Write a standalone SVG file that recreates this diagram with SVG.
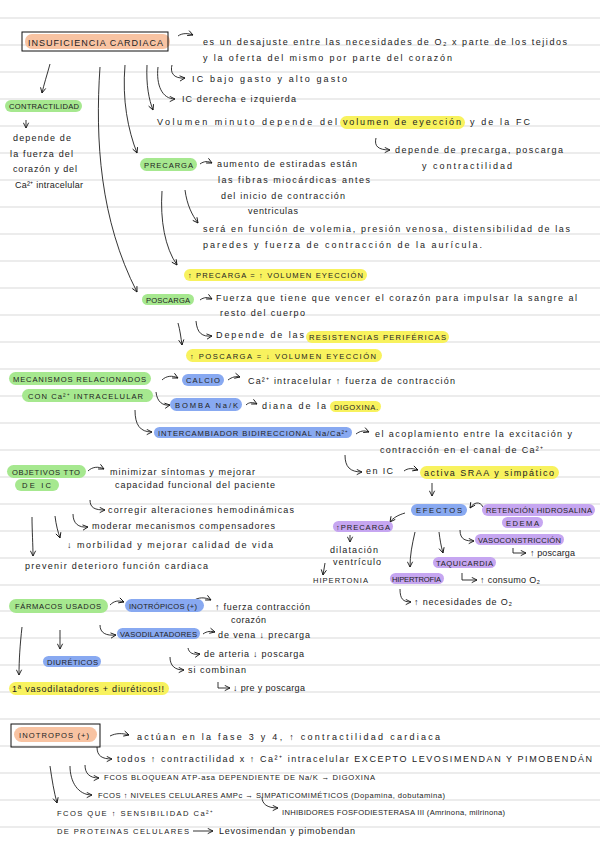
<svg xmlns="http://www.w3.org/2000/svg" width="600" height="848" viewBox="0 0 600 848">
<defs>
<marker id="ah" viewBox="0 0 8 8" refX="7" refY="4" markerWidth="7" markerHeight="7" markerUnits="userSpaceOnUse" orient="auto">
<path d="M1,1 L7,4 L1,7" fill="none" stroke="#111" stroke-width="1"/>
</marker>
<style>
.t{font-family:"Liberation Sans",Arial,sans-serif;font-size:9px;fill:#222}
.u{font-family:"Liberation Sans",Arial,sans-serif;font-size:7.6px;fill:#222}
.c{fill:none;stroke:#111;stroke-width:0.85;marker-end:url(#ah)}
.rule{stroke:#d9d9d9;stroke-width:1.2}
.g{fill:#a6e88f}
.b{fill:#88a9f1}
.p{fill:#c6a6f1}
.y{fill:#f8f25e}
.o{fill:#f8c3a2}
.box{fill:none;stroke:#111;stroke-width:1}
</style>
</defs>
<rect width="600" height="848" fill="#ffffff"/>
<g id="rules">
<line class="rule" x1="0" y1="18" x2="600" y2="18"/>
<line class="rule" x1="0" y1="45" x2="600" y2="45"/>
<line class="rule" x1="0" y1="72" x2="600" y2="72"/>
<line class="rule" x1="0" y1="99" x2="600" y2="99"/>
<line class="rule" x1="0" y1="126" x2="600" y2="126"/>
<line class="rule" x1="0" y1="153" x2="600" y2="153"/>
<line class="rule" x1="0" y1="180" x2="600" y2="180"/>
<line class="rule" x1="0" y1="207" x2="600" y2="207"/>
<line class="rule" x1="0" y1="234" x2="600" y2="234"/>
<line class="rule" x1="0" y1="261" x2="600" y2="261"/>
<line class="rule" x1="0" y1="288" x2="600" y2="288"/>
<line class="rule" x1="0" y1="315" x2="600" y2="315"/>
<line class="rule" x1="0" y1="342" x2="600" y2="342"/>
<line class="rule" x1="0" y1="369" x2="600" y2="369"/>
<line class="rule" x1="0" y1="396" x2="600" y2="396"/>
<line class="rule" x1="0" y1="423" x2="600" y2="423"/>
<line class="rule" x1="0" y1="450" x2="600" y2="450"/>
<line class="rule" x1="0" y1="477" x2="600" y2="477"/>
<line class="rule" x1="0" y1="504" x2="600" y2="504"/>
<line class="rule" x1="0" y1="531" x2="600" y2="531"/>
<line class="rule" x1="0" y1="558" x2="600" y2="558"/>
<line class="rule" x1="0" y1="585" x2="600" y2="585"/>
<line class="rule" x1="0" y1="611" x2="600" y2="611"/>
<line class="rule" x1="0" y1="638" x2="600" y2="638"/>
<line class="rule" x1="0" y1="665" x2="600" y2="665"/>
<line class="rule" x1="0" y1="692" x2="600" y2="692"/>
<line class="rule" x1="0" y1="719" x2="600" y2="719"/>
<line class="rule" x1="0" y1="746" x2="600" y2="746"/>
<line class="rule" x1="0" y1="773" x2="600" y2="773"/>
<line class="rule" x1="0" y1="800" x2="600" y2="800"/>
<line class="rule" x1="0" y1="827" x2="600" y2="827"/>
</g>

<g id="connectors">
<path class="c" d="M178,36 C182,33 188,33 193,35"/>
<path class="c" d="M50,64 C47,75 44,84 42,93"/>
<path class="c" d="M100,67 C95,140 100,220 137,292"/>
<path class="c" d="M125,65 C122,100 128,130 137,153"/>
<path class="c" d="M147,65 C146,85 149,100 153,110"/>
<path class="c" d="M158,67 C156,85 162,99 175,99"/>
<path class="c" d="M172,65 C170,72 173,79 185,78"/>
<path class="c" d="M376,138 C374,146 378,150 390,150"/>
<path class="c" d="M26,120 L26,128"/>
<path class="c" d="M200,164 C204,161 208,161 212,163"/>
<path class="c" d="M185,190 C187,205 192,215 198,223"/>
<path class="c" d="M162,191 C160,220 165,248 177,265"/>
<path class="c" d="M200,300 C204,297 208,297 212,299"/>
<path class="c" d="M196,321 C197,333 202,337 212,336"/>
<path class="c" d="M178,323 C180,330 181,338 182,345"/>
<path class="c" d="M162,380 C166,376 172,375 178,378"/>
<path class="c" d="M228,380 C232,377 236,376 240,377"/>
<path class="c" d="M156,392 C157,402 163,406 170,405"/>
<path class="c" d="M246,405 C249,402 253,402 257,404"/>
<path class="c" d="M135,410 C135,425 140,432 152,432"/>
<path class="c" d="M356,434 C360,431 364,430 369,432"/>
<path class="c" d="M345,455 C345,467 350,472 362,472"/>
<path class="c" d="M404,471 C408,468 412,468 418,470"/>
<path class="c" d="M432,483 L432,496"/>
<path class="c" d="M483,507 C480,501 474,502 470,508"/>
<path class="c" d="M405,513 C398,515 393,518 390,522"/>
<path class="c" d="M350,535 L350,542"/>
<path class="c" d="M325,563 L323,575"/>
<path class="c" d="M415,532 C412,545 410,555 410,567"/>
<path class="c" d="M439,532 C440,540 441,546 443,553"/>
<path class="c" d="M460,530 C460,540 466,541 474,541"/>
<path class="c" d="M513,548 L513,553 L526,553"/>
<path class="c" d="M462,573 L462,580 L477,580"/>
<path class="c" d="M400,589 C400,599 403,602 411,602"/>
<path class="c" d="M88,471 C92,467 98,466 104,469"/>
<path class="c" d="M90,500 C90,508 95,510 105,510"/>
<path class="c" d="M73,514 C73,523 78,528 88,527"/>
<path class="c" d="M55,516 C56,525 58,532 60,538"/>
<path class="c" d="M32,517 C32,530 33,545 33,556"/>
<path class="c" d="M110,605 C114,601 118,600 124,602"/>
<path class="c" d="M193,601 C198,597 205,597 211,600"/>
<path class="c" d="M100,625 C100,633 106,636 116,635"/>
<path class="c" d="M203,634 C207,631 211,631 215,632"/>
<path class="c" d="M188,648 C189,653 193,655 200,654"/>
<path class="c" d="M170,657 C170,666 175,670 184,670"/>
<path class="c" d="M218,682 L218,688 L230,688"/>
<path class="c" d="M22,627 C20,645 19,660 19,675"/>
<path class="c" d="M60,630 L60,649"/>
<path class="c" d="M110,736 C116,733 122,733 129,735"/>
<path class="c" d="M97,747 C97,756 102,759 112,759"/>
<path class="c" d="M85,765 C85,773 89,778 99,778"/>
<path class="c" d="M70,766 C70,782 78,795 92,795"/>
<path class="c" d="M262,797 C262,804 267,808 278,808"/>
<path class="c" d="M50,766 C52,780 54,792 57,803"/>
<path class="c" d="M193,831 L213,831"/>
</g>

<g id="n-insuficiencia">
<rect class="o" x="25" y="34" width="145" height="15" rx="7"/>
<rect class="box" x="22" y="32" width="146" height="19"/>
<text class="t" x="28" y="45.5" textLength="135" lengthAdjust="spacing">INSUFICIENCIA  CARDIACA</text>
</g>
<g id="n-definicion">
<text class="t" x="203" y="45" textLength="364" lengthAdjust="spacing">es un desajuste entre las necesidades de O₂ x parte de los tejidos</text>
<text class="t" x="203" y="61" textLength="249" lengthAdjust="spacing">y la oferta del mismo por parte del corazón</text>
</g>
<g id="n-bajo-gasto"><text class="t" x="192" y="82" textLength="155" lengthAdjust="spacing">IC bajo gasto y alto gasto</text></g>
<g id="n-derecha"><text class="t" x="182" y="102" textLength="114" lengthAdjust="spacing">IC derecha e izquierda</text></g>
<g id="n-volumen-minuto">
<rect class="y" x="340" y="116" width="125" height="13" rx="6.5"/>
<text class="t" x="157" y="125" textLength="180" lengthAdjust="spacing">Volumen minuto depende del</text>
<text class="t" x="343" y="125" textLength="118" lengthAdjust="spacing">volumen de eyección</text>
<text class="t" x="470" y="125" textLength="60" lengthAdjust="spacing">y de la FC</text>
</g>
<g id="n-depende">
<text class="t" x="395" y="153" textLength="168" lengthAdjust="spacing">depende de precarga, poscarga</text>
<text class="t" x="422" y="169" textLength="90" lengthAdjust="spacing">y contractilidad</text>
</g>
<g id="n-contractilidad">
<rect class="g" x="5" y="100" width="77" height="12" rx="6"/>
<text class="u" x="9" y="109" textLength="70" lengthAdjust="spacing">CONTRACTILIDAD</text>
<text class="t" x="13" y="141" textLength="58" lengthAdjust="spacing">depende de</text>
<text class="t" x="10" y="157" textLength="63" lengthAdjust="spacing">la fuerza del</text>
<text class="t" x="13" y="172" textLength="64" lengthAdjust="spacing">corazón y del</text>
<text class="t" x="15" y="188" textLength="68" lengthAdjust="spacing">Ca²⁺ intracelular</text>
</g>
<g id="n-precarga">
<rect class="g" x="140" y="158" width="57" height="13" rx="6.5"/>
<text class="u" x="144" y="167.5" textLength="49" lengthAdjust="spacing">PRECARGA</text>
</g>
<g id="n-precarga-def">
<text class="t" x="217" y="167" textLength="140" lengthAdjust="spacing">aumento de estiradas están</text>
<text class="t" x="218" y="183" textLength="152" lengthAdjust="spacing">las fibras miocárdicas antes</text>
<text class="t" x="221" y="199" textLength="124" lengthAdjust="spacing">del inicio de contracción</text>
<text class="t" x="248" y="214" textLength="50" lengthAdjust="spacing">ventriculas</text>
</g>
<g id="n-sera">
<text class="t" x="203" y="232" textLength="367" lengthAdjust="spacing">será en función de volemia, presión venosa, distensibilidad de las</text>
<text class="t" x="203" y="248" textLength="279" lengthAdjust="spacing">paredes y fuerza de contracción de la aurícula.</text>
</g>
<g id="n-precarga-eq">
<rect class="y" x="184" y="269" width="183" height="12" rx="6"/>
<text class="u" x="188" y="278" textLength="175" lengthAdjust="spacing">↑ PRECARGA = ↑ VOLUMEN EYECCIÓN</text>
</g>
<g id="n-poscarga">
<rect class="g" x="142" y="294" width="52" height="11" rx="5.5"/>
<text class="u" x="146" y="302.5" textLength="44" lengthAdjust="spacing">POSCARGA</text>
</g>
<g id="n-poscarga-def">
<text class="t" x="216" y="301" textLength="361" lengthAdjust="spacing">Fuerza que tiene que vencer el corazón para impulsar la sangre al</text>
<text class="t" x="220" y="316" textLength="85" lengthAdjust="spacing">resto del cuerpo</text>
</g>
<g id="n-resistencias">
<rect class="y" x="306" y="331" width="143" height="12" rx="6"/>
<text class="t" x="216" y="338" textLength="88" lengthAdjust="spacing">Depende de las</text>
<text class="u" x="309" y="340" textLength="137" lengthAdjust="spacing">RESISTENCIAS PERIFÉRICAS</text>
</g>
<g id="n-poscarga-eq">
<rect class="y" x="186" y="349" width="196" height="13" rx="6.5"/>
<text class="u" x="190" y="358.5" textLength="186" lengthAdjust="spacing">↑ POSCARGA = ↓ VOLUMEN EYECCIÓN</text>
</g>
<g id="n-mecanismos">
<rect class="g" x="9" y="372" width="142" height="13" rx="6.5"/>
<rect class="g" x="22" y="389" width="131" height="13" rx="6.5"/>
<text class="u" x="13" y="381.5" textLength="133" lengthAdjust="spacing">MECANISMOS RELACIONADOS</text>
<text class="u" x="28" y="398.5" textLength="115" lengthAdjust="spacing">CON Ca²⁺ INTRACELULAR</text>
</g>
<g id="n-calcio">
<rect class="b" x="182" y="374" width="42" height="12" rx="6"/>
<text class="u" x="186" y="383" textLength="34" lengthAdjust="spacing">CALCIO</text>
</g>
<g id="n-calcio-def"><text class="t" x="248" y="384" textLength="207" lengthAdjust="spacing">Ca²⁺ intracelular ↑ fuerza de contracción</text></g>
<g id="n-bomba">
<rect class="b" x="170" y="398" width="72" height="13" rx="6.5"/>
<text class="u" x="175" y="407.5" textLength="63" lengthAdjust="spacing">BOMBA Na/K</text>
</g>
<g id="n-diana">
<rect class="y" x="330" y="401" width="51" height="11" rx="5.5"/>
<text class="t" x="262" y="409" textLength="64" lengthAdjust="spacing">diana de la</text>
<text class="u" x="334" y="409.5" textLength="44" lengthAdjust="spacing">DIGOXINA.</text>
</g>
<g id="n-intercambiador">
<rect class="b" x="154" y="427" width="198" height="11" rx="5.5"/>
<text class="u" x="158" y="435.5" textLength="190" lengthAdjust="spacing">INTERCAMBIADOR BIDIRECCIONAL Na/Ca²⁺</text>
</g>
<g id="n-acoplamiento">
<text class="t" x="375" y="437" textLength="197" lengthAdjust="spacing">el acoplamiento entre la excitación y</text>
<text class="t" x="380" y="453" textLength="163" lengthAdjust="spacing">contracción en el canal de Ca²⁺</text>
</g>
<g id="n-en-ic"><text class="t" x="366" y="474" textLength="27" lengthAdjust="spacing">en IC</text></g>
<g id="n-activa">
<rect class="y" x="420" y="466" width="139" height="13" rx="6.5"/>
<text class="t" x="424" y="476" textLength="130" lengthAdjust="spacing">activa SRAA y simpático</text>
</g>
<g id="n-efectos">
<rect class="b" x="411" y="504" width="56" height="12" rx="6"/>
<text class="u" x="416" y="513" textLength="46" lengthAdjust="spacing">EFECTOS</text>
</g>
<g id="n-retencion">
<rect class="p" x="482" y="504" width="113" height="12" rx="6"/>
<text class="u" x="486" y="513" textLength="106" lengthAdjust="spacing">RETENCIÓN HIDROSALINA</text>
</g>
<g id="n-edema">
<rect class="p" x="502" y="517" width="41" height="11" rx="5.5"/>
<text class="u" x="506" y="525.5" textLength="33" lengthAdjust="spacing">EDEMA</text>
</g>
<g id="n-up-precarga">
<rect class="p" x="333" y="521" width="60" height="11" rx="5.5"/>
<text class="u" x="336" y="529.5" textLength="54" lengthAdjust="spacing">↑PRECARGA</text>
</g>
<g id="n-dilatacion">
<text class="t" x="330" y="553" textLength="48" lengthAdjust="spacing">dilatación</text>
<text class="t" x="333" y="565" textLength="48" lengthAdjust="spacing">ventrículo</text>
</g>
<g id="n-hipertonia"><text class="u" x="313" y="583" textLength="55" lengthAdjust="spacing">HIPERTONIA</text></g>
<g id="n-hipertrofia">
<rect class="p" x="390" y="573" width="54" height="11" rx="5.5"/>
<text class="u" x="392" y="581.5" textLength="49" lengthAdjust="spacing">HIPERTROFIA</text>
</g>
<g id="n-necesidades"><text class="t" x="414" y="605" textLength="98" lengthAdjust="spacing">↑ necesidades de O₂</text></g>
<g id="n-taquicardia">
<rect class="p" x="433" y="557" width="63" height="11" rx="5.5"/>
<text class="u" x="436" y="565.5" textLength="57" lengthAdjust="spacing">TAQUICARDIA</text>
</g>
<g id="n-consumo"><text class="t" x="480" y="583" textLength="60" lengthAdjust="spacing">↑ consumo O₂</text></g>
<g id="n-vasoconstriccion">
<rect class="p" x="475" y="534" width="89" height="11" rx="5.5"/>
<text class="u" x="478" y="542.5" textLength="83" lengthAdjust="spacing">VASOCONSTRICCIÓN</text>
</g>
<g id="n-up-poscarga"><text class="t" x="530" y="556" textLength="45" lengthAdjust="spacing">↑ poscarga</text></g>
<g id="n-objetivos">
<rect class="g" x="7" y="465" width="79" height="13" rx="6.5"/>
<rect class="g" x="15" y="479" width="44" height="12" rx="6"/>
<text class="u" x="12" y="474.5" textLength="68" lengthAdjust="spacing">OBJETIVOS TTO</text>
<text class="u" x="22" y="488" textLength="29" lengthAdjust="spacing">DE IC</text>
</g>
<g id="n-minimizar">
<text class="t" x="110" y="475" textLength="145" lengthAdjust="spacing">minimizar síntomas y mejorar</text>
<text class="t" x="115" y="488" textLength="160" lengthAdjust="spacing">capacidad funcional del paciente</text>
</g>
<g id="n-corregir"><text class="t" x="108" y="513" textLength="186" lengthAdjust="spacing">corregir alteraciones hemodinámicas</text></g>
<g id="n-moderar"><text class="t" x="92" y="529" textLength="183" lengthAdjust="spacing">moderar mecanismos compensadores</text></g>
<g id="n-morbilidad"><text class="t" x="67" y="548" textLength="206" lengthAdjust="spacing">↓ morbilidad y mejorar calidad de vida</text></g>
<g id="n-prevenir"><text class="t" x="25" y="569" textLength="183" lengthAdjust="spacing">prevenir deterioro función cardiaca</text></g>
<g id="n-farmacos">
<rect class="g" x="9" y="599" width="99" height="14" rx="7"/>
<text class="u" x="15" y="609" textLength="86" lengthAdjust="spacing">FÁRMACOS USADOS</text>
</g>
<g id="n-inotropicos">
<rect class="b" x="125" y="599" width="79" height="13" rx="6.5"/>
<text class="u" x="129" y="608.5" textLength="68" lengthAdjust="spacing">INOTRÓPICOS (+)</text>
</g>
<g id="n-fuerza">
<text class="t" x="215" y="610" textLength="95" lengthAdjust="spacing">↑ fuerza contracción</text>
<text class="t" x="231" y="623" textLength="35" lengthAdjust="spacing">corazón</text>
</g>
<g id="n-vasodilatadores">
<rect class="b" x="117" y="628" width="83" height="11" rx="5.5"/>
<text class="u" x="120" y="636.5" textLength="77" lengthAdjust="spacing">VASODILATADORES</text>
</g>
<g id="n-vena"><text class="t" x="218" y="638" textLength="92" lengthAdjust="spacing">de vena ↓ precarga</text></g>
<g id="n-arteria"><text class="t" x="204" y="657" textLength="100" lengthAdjust="spacing">de arteria ↓ poscarga</text></g>
<g id="n-combinan"><text class="t" x="188" y="673" textLength="58" lengthAdjust="spacing">si combinan</text></g>
<g id="n-pre-pos"><text class="t" x="233" y="691" textLength="72" lengthAdjust="spacing">↓ pre y poscarga</text></g>
<g id="n-diureticos">
<rect class="b" x="43" y="656" width="58" height="11" rx="5.5"/>
<text class="u" x="47" y="664.5" textLength="51" lengthAdjust="spacing">DIURÉTICOS</text>
</g>
<g id="n-primera">
<rect class="y" x="9" y="682" width="160" height="13" rx="6.5"/>
<text class="t" x="12" y="691.5" textLength="152" lengthAdjust="spacing">1ª vasodilatadores + diuréticos!!</text>
</g>
<g id="n-inotropos">
<rect class="o" x="14" y="727" width="83" height="15" rx="7.5"/>
<rect class="box" x="11" y="724" width="89" height="23"/>
<text class="u" x="19" y="737.5" textLength="70" lengthAdjust="spacing">INOTROPOS (+)</text>
</g>
<g id="n-actuan"><text class="t" x="137" y="740" textLength="303" lengthAdjust="spacing">actúan en la fase 3 y 4, ↑ contractilidad cardiaca</text></g>
<g id="n-todos"><text class="t" x="117" y="762" textLength="475" lengthAdjust="spacing">todos ↑ contractilidad x ↑ Ca²⁺ intracelular  EXCEPTO  LEVOSIMENDAN Y PIMOBENDÁN</text></g>
<g id="n-bloquean"><text class="u" x="104" y="780" textLength="271" lengthAdjust="spacing">FCOS  BLOQUEAN  ATP-asa  DEPENDIENTE  DE  Na/K → DIGOXINA</text></g>
<g id="n-niveles"><text class="u" x="98" y="798" textLength="347" lengthAdjust="spacing">FCOS ↑ NIVELES CELULARES AMPc → SIMPATICOMIMÉTICOS (Dopamina, dobutamina)</text></g>
<g id="n-inhibidores"><text class="u" x="282" y="815" textLength="223" lengthAdjust="spacing">INHIBIDORES FOSFODIESTERASA III (Amrinona, milrinona)</text></g>
<g id="n-sensibilidad">
<text class="u" x="57" y="816" textLength="156" lengthAdjust="spacing">FCOS QUE ↑ SENSIBILIDAD Ca²⁺</text>
<text class="u" x="57" y="834" textLength="132" lengthAdjust="spacing">DE PROTEINAS CELULARES</text>
</g>
<g id="n-levosimendan"><text class="t" x="219" y="834" textLength="136" lengthAdjust="spacing">Levosimendan y pimobendan</text></g>
</svg>
